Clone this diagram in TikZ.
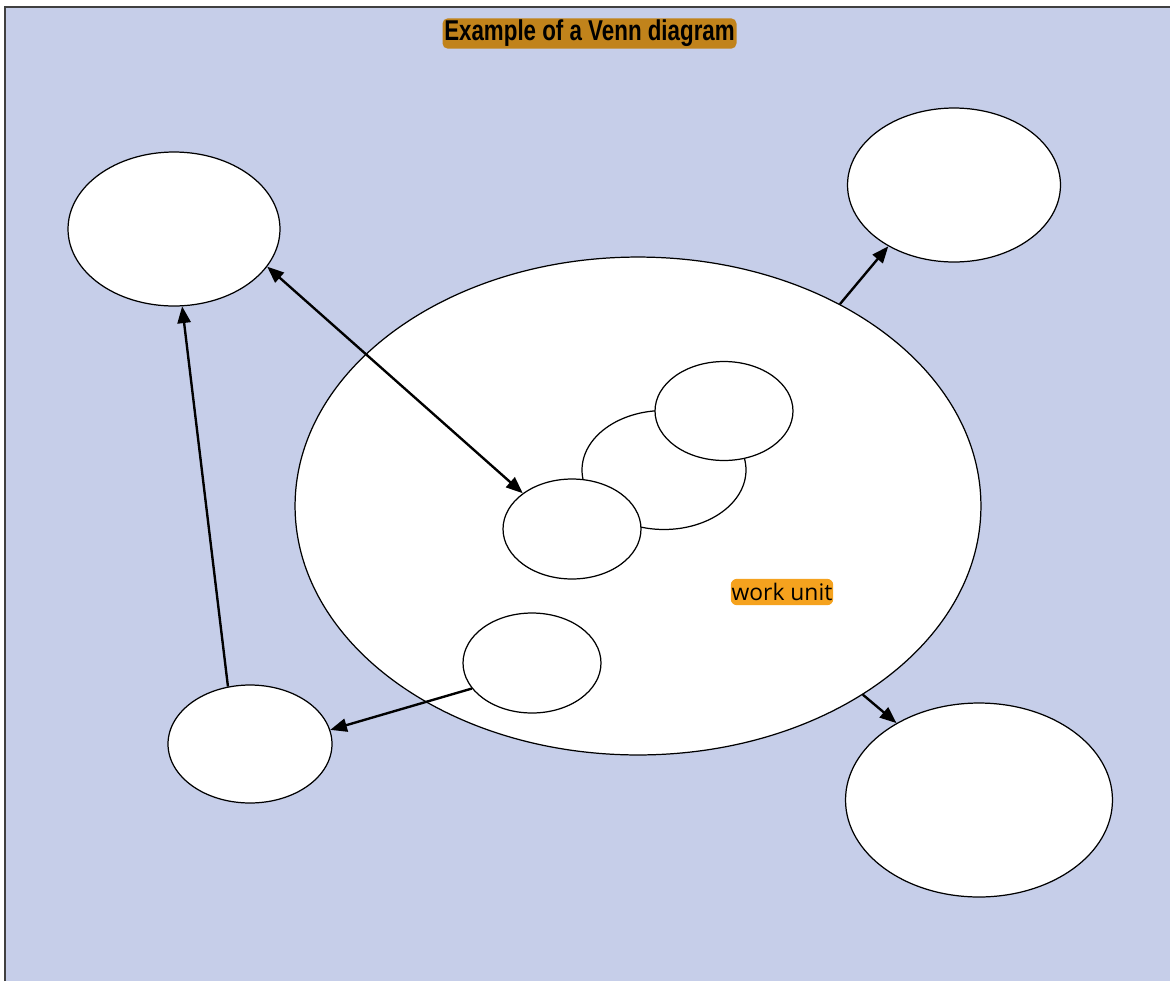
\documentclass[tikz,border=0pt]{standalone}
\usepackage{fontspec}
\usepackage{tikz}
\usetikzlibrary{shapes.geometric,arrows.meta}
\newfontfamily\titlefont[FakeStretch=0.78]{Liberation Sans Bold}
\newfontfamily\unitfont{Open Sans}
\definecolor{vennbg}{RGB}{198,206,233}
\definecolor{titlegold}{RGB}{193,131,27}
\definecolor{unitorange}{RGB}{245,162,30}
\definecolor{framegray}{RGB}{64,64,64}
\tikzset{
	blob/.style 2 args={ellipse, draw=black, fill=white, line width=0.7pt, inner sep=0pt, minimum width=#1, minimum height=#2},
	link/.style={line width=1.35pt, -{Triangle[length=9.5pt,width=7.5pt]}},
	twolink/.style={line width=1.35pt, {Triangle[length=9.5pt,width=7.5pt]}-{Triangle[length=9.5pt,width=7.5pt]}},
	titlebox/.style={fill=titlegold, rounded corners=3pt, inner xsep=1pt, inner ysep=1pt, font=\titlefont\fontsize{16.3}{16}\selectfont},
	unitbox/.style={fill=unitorange, rounded corners=3.5pt, inner xsep=0.5pt, inner ysep=2.5pt, font=\unitfont\fontsize{13}{13}\selectfont}
}

\begin{document}
\begin{tikzpicture}[x=0.02cm, y=-0.02cm]
			%%%%% START %%%%%
			\useasboundingbox (0, 0) rectangle (1170, 981);
			\fill[vennbg] (5, 7) rectangle (1170, 981);
			\draw[framegray, line width=1.2pt] (5, 981) -- (5, 7) -- (1170, 7);
			
			\node[titlebox] (title) at (589.5, 33.5) {Example of a Venn diagram};
			
			% outer sets
			\node[blob={13.72cm}{9.96cm}] (unit) at (638, 506) {};
			\node[blob={4.24cm}{3.08cm}] (topleft) at (174, 229) {};
			\node[blob={4.26cm}{3.08cm}] (topright) at (954, 185) {};
			\node[blob={5.34cm}{3.88cm}] (botright) at (979, 800) {};
			\node[blob={3.28cm}{2.36cm}] (botleft) at (250, 744) {};
			
			% sets inside the work unit
			\node[blob={3.28cm}{2.38cm}] (inmid) at (664, 470) {};
			\node[blob={2.76cm}{1.98cm}] (intop) at (724, 411) {};
			\node[blob={2.76cm}{2.0cm}] (incore) at (572, 529) {};
			\node[blob={2.76cm}{2.0cm}] (inlow) at (532, 663) {};
			
			\node[unitbox] (unitlabel) at (782, 592) {work unit};
			
			% connectors
			\draw[twolink] (incore.144) -- (topleft.-22);
			\draw[link] (botleft.111) -- (topleft.-84);
			\draw[link] (inlow.203) -- (botleft.10);
			\draw[link] (unit.45.6) -- (topright.223);
			\draw[link] (unit.-40) -- (botright.137);
			%%%%% END %%%%%
\end{tikzpicture}
\end{document}
